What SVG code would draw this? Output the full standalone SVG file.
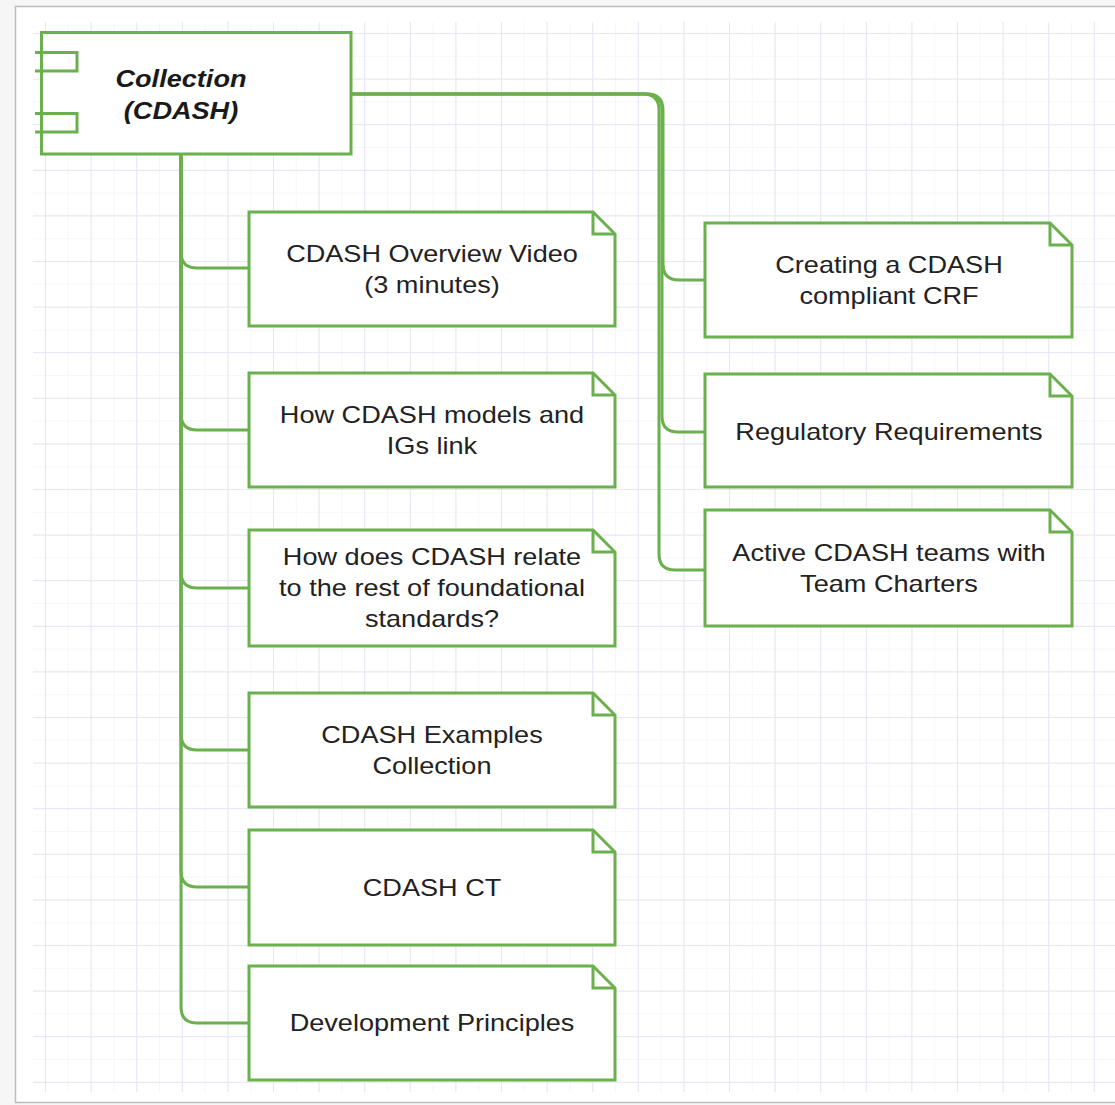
<svg xmlns="http://www.w3.org/2000/svg" width="1115" height="1105" viewBox="0 0 1115 1105">
<style>
.box{fill:#ffffff;stroke:#6ab04c;stroke-width:3;stroke-linejoin:miter}
.fold{fill:none;stroke:#6ab04c;stroke-width:3}
.edge{fill:none;stroke:#6ab04c;stroke-width:3}
text{font-family:"Liberation Sans",Arial,Helvetica,sans-serif;font-size:24px;fill:#222222;text-anchor:middle}
.title{font-weight:bold;font-style:italic;fill:#1a1a1a}
</style>
<defs>
<pattern id="minor" patternUnits="userSpaceOnUse" x="45" y="33" width="22.8" height="22.8">
<rect width="1" height="22.8" fill="#f6f6fc"/><rect width="22.8" height="1" fill="#f6f6fc"/>
</pattern>
<pattern id="major" patternUnits="userSpaceOnUse" x="45" y="33" width="45.6" height="45.6">
<rect width="1" height="45.6" fill="#e6e6f5"/><rect width="45.6" height="1" fill="#e6e6f5"/>
</pattern>
</defs>
<rect x="0" y="0" width="1115" height="1105" fill="#f6f6f6"/>
<rect x="15.5" y="6.5" width="1110" height="1096" fill="#ffffff" stroke="#bcbcbc" stroke-width="1.5"/>
<rect x="33" y="22" width="1082" height="1070" fill="url(#minor)"/>
<rect x="33" y="22" width="1082" height="1070" fill="url(#major)"/>

<g id="connectors">
<path class="edge" d="M181,154 V252 Q181,268 197,268 H249"/>
<path class="edge" d="M181,154 V414 Q181,430 197,430 H249"/>
<path class="edge" d="M181,154 V572 Q181,588 197,588 H249"/>
<path class="edge" d="M181,154 V734 Q181,750 197,750 H249"/>
<path class="edge" d="M181,154 V871 Q181,887 197,887 H249"/>
<path class="edge" d="M181,154 V1007 Q181,1023 197,1023 H249"/>
<path class="edge" d="M351,94 H647 Q663,94 663,110 V264 Q663,280 679,280 H705"/>
<path class="edge" d="M351,94 H646 Q662,94 662,110 V416 Q662,432 678,432 H705"/>
<path class="edge" d="M351,94 H643 Q659,94 659,110 V554 Q659,570 675,570 H705"/>
</g>

<g id="collection">
<rect class="box" x="41.5" y="32.5" width="309.5" height="121.5"/>
<path class="fold" d="M35,52.5 H77 V71 H35"/>
<path class="fold" d="M35,113.5 H77 V132 H35"/>
<text class="title" transform="translate(181 0) scale(1.13 1)" x="0" y="87">Collection</text>
<text class="title" transform="translate(181 0) scale(1.13 1)" x="0" y="119">(CDASH)</text>
</g>

<g id="overview">
<path class="box" d="M249,212 H593 L615,234 V326 H249 Z"/>
<path class="fold" d="M593,212 V234 H615"/>
<text transform="translate(432 0) scale(1.13 1)" x="0" y="262">CDASH Overview Video<tspan x="0" dy="31">(3 minutes)</tspan></text>
</g>

<g id="models">
<path class="box" d="M249,373 H593 L615,395 V487 H249 Z"/>
<path class="fold" d="M593,373 V395 H615"/>
<text transform="translate(432 0) scale(1.13 1)" x="0" y="423">How CDASH models and<tspan x="0" dy="31">IGs link</tspan></text>
</g>

<g id="relate">
<path class="box" d="M249,530 H593 L615,552 V646 H249 Z"/>
<path class="fold" d="M593,530 V552 H615"/>
<text transform="translate(432 0) scale(1.13 1)" x="0" y="565">How does CDASH relate<tspan x="0" dy="31">to the rest of foundational</tspan><tspan x="0" dy="31">standards?</tspan></text>
</g>

<g id="examples">
<path class="box" d="M249,693 H593 L615,715 V807 H249 Z"/>
<path class="fold" d="M593,693 V715 H615"/>
<text transform="translate(432 0) scale(1.13 1)" x="0" y="743">CDASH Examples<tspan x="0" dy="31">Collection</tspan></text>
</g>

<g id="ct">
<path class="box" d="M249,830 H593 L615,852 V945 H249 Z"/>
<path class="fold" d="M593,830 V852 H615"/>
<text transform="translate(432 0) scale(1.13 1)" x="0" y="896">CDASH CT</text>
</g>

<g id="principles">
<path class="box" d="M249,966 H593 L615,988 V1080 H249 Z"/>
<path class="fold" d="M593,966 V988 H615"/>
<text transform="translate(432 0) scale(1.13 1)" x="0" y="1031">Development Principles</text>
</g>

<g id="creating">
<path class="box" d="M705,223 H1050 L1072,245 V337 H705 Z"/>
<path class="fold" d="M1050,223 V245 H1072"/>
<text transform="translate(889 0) scale(1.13 1)" x="0" y="273">Creating a CDASH<tspan x="0" dy="31">compliant CRF</tspan></text>
</g>

<g id="regulatory">
<path class="box" d="M705,374 H1050 L1072,396 V487 H705 Z"/>
<path class="fold" d="M1050,374 V396 H1072"/>
<text transform="translate(889 0) scale(1.13 1)" x="0" y="440">Regulatory Requirements</text>
</g>

<g id="teams">
<path class="box" d="M705,510 H1050 L1072,532 V626 H705 Z"/>
<path class="fold" d="M1050,510 V532 H1072"/>
<text transform="translate(889 0) scale(1.13 1)" x="0" y="561">Active CDASH teams with<tspan x="0" dy="31">Team Charters</tspan></text>
</g>
</svg>
